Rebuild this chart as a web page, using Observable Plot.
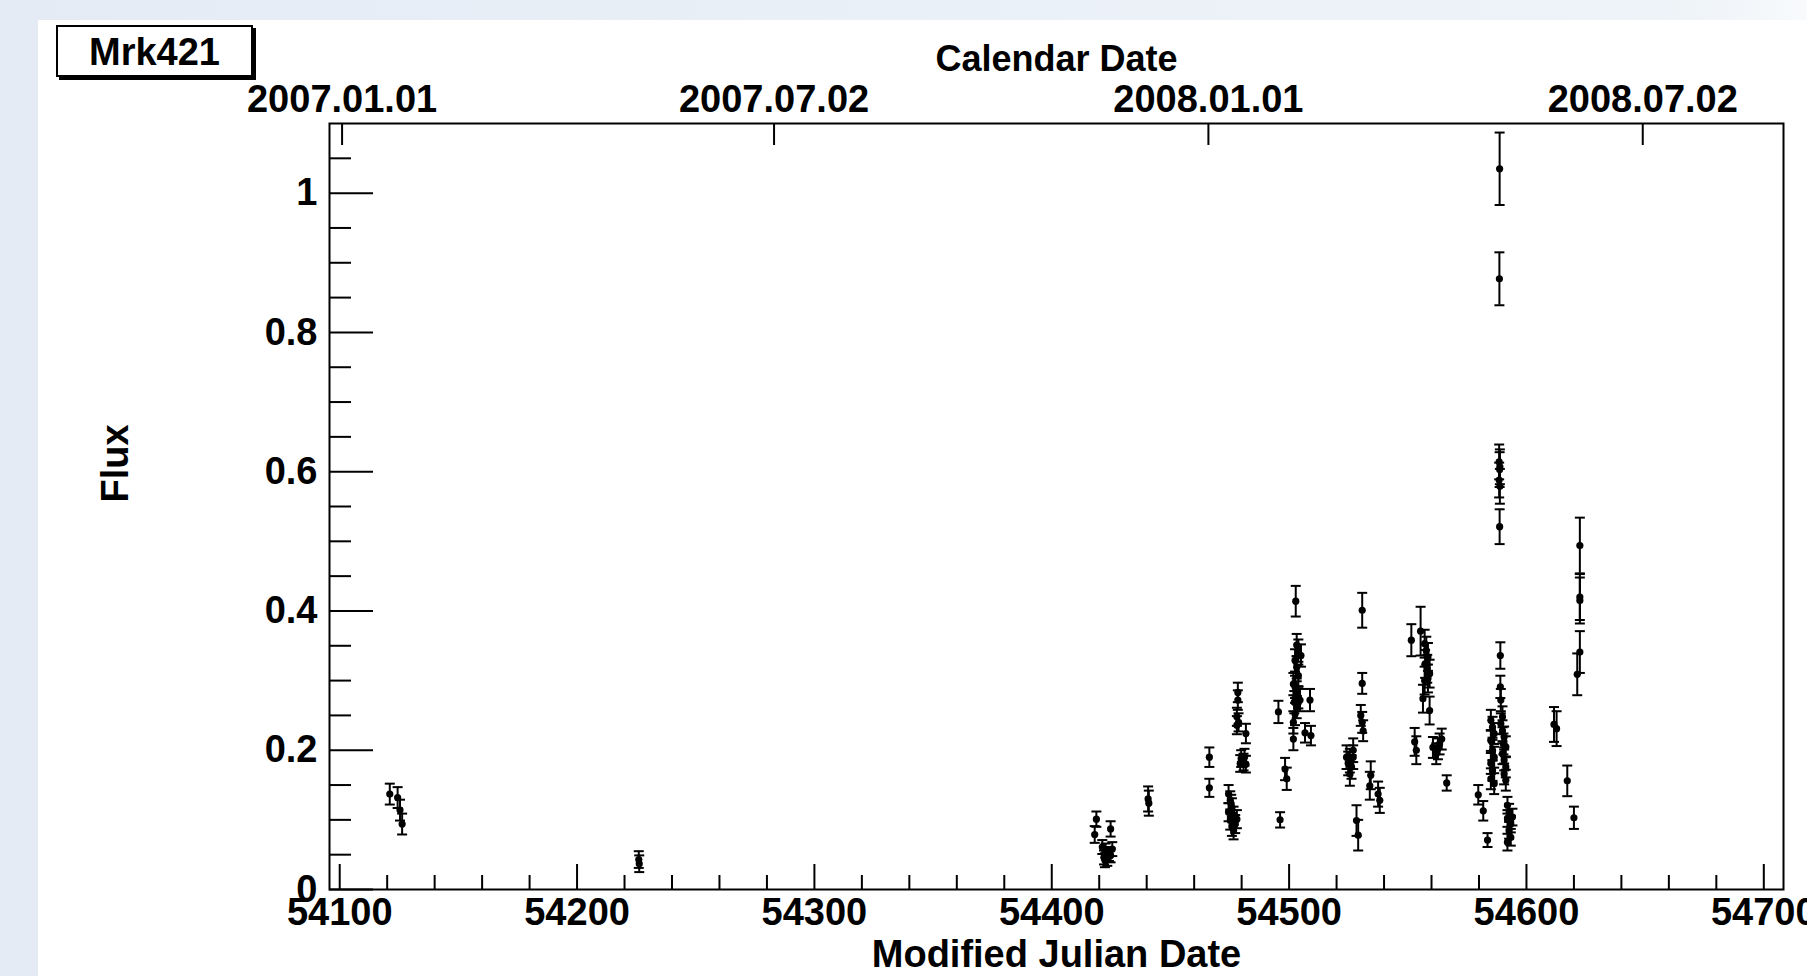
<!DOCTYPE html>
<html>
<head>
<meta charset="utf-8">
<script src="https://cdn.jsdelivr.net/npm/d3@7"></script>
<script src="https://cdn.jsdelivr.net/npm/@observablehq/plot@0.6"></script>
<style>
  html, body { margin: 0; padding: 0; overflow: hidden; }
  body {
    width: 1807px; height: 976px; position: relative;
    background: linear-gradient(90deg, #e4ebf5 0%, #ebf1f8 60%, #eef3f8 93%, #f8fafc 100%);
    font-family: "Liberation Sans", Arial, sans-serif;
  }
  #panel { position: absolute; left: 38px; top: 20px; width: 1769px; height: 956px; background: #fff; }
  #tag {
    position: absolute; left: 18px; top: 5px; width: 193px; height: 46px; z-index: 5;
    border: 2px solid #000; background: #fff; box-shadow: 3px 3px 0 #000;
    font: bold 38px "Liberation Sans", Arial, sans-serif; color: #000;
    display: flex; align-items: center; justify-content: center; line-height: 1; padding-top: 2px; box-sizing: content-box;
  }
</style>
</head>
<body>
<div id="panel"><div id="tag">Mrk421</div></div>
<script>
// ---- data ----
const mjd = [
  54121.1, 54124.4, 54125.4, 54126.3, 54226.0, 54226.2,
  54418.8, 54418.1, 54424.8, 54421.3, 54422.7, 54424.1, 54422.0, 54423.4, 54425.5, 54424.8, 54422.4,
  54440.6, 54440.9, 54466.4, 54466.4,
  54474.5, 54475.2, 54475.9, 54474.5, 54476.6, 54475.2, 54477.3, 54475.9, 54476.6, 54478.0, 54475.6,
  54478.4, 54478.4, 54478.0, 54478.7, 54478.0, 54481.8, 54479.8, 54480.8, 54481.8, 54479.4, 54481.2,
  54495.5, 54496.2, 54498.3, 54499.0, 54502.8,
  54503.2, 54503.9, 54505.0, 54502.5, 54503.2, 54503.9, 54501.8, 54502.5, 54503.2, 54503.9, 54502.2, 54503.2, 54501.8, 54501.8, 54504.6, 54502.5,
  54508.8, 54506.7, 54509.2,
  54530.8, 54530.8, 54530.2, 54530.8, 54531.2,
  54524.2, 54525.6, 54527.0, 54524.9, 54526.3, 54525.6, 54527.0,
  54528.4, 54529.1, 54534.4, 54534.0, 54537.5, 54538.2,
  54551.5, 54555.4, 54557.1, 54557.8, 54558.5, 54557.3, 54558.2, 54559.2, 54557.1, 54558.5,
  54556.4, 54559.2, 54552.9, 54553.6, 54560.6, 54562.0, 54563.4, 54564.3, 54562.7, 54566.4,
  54579.7, 54581.8, 54583.6,
  54585.0, 54585.7, 54586.4, 54585.0, 54585.7, 54586.4, 54585.0, 54585.7, 54585.0, 54586.4,
  54588.7, 54588.6, 54588.5, 54588.8, 54588.7, 54588.5, 54588.8, 54588.7,
  54589.0, 54589.0, 54589.2,
  54589.2, 54589.9, 54590.6, 54591.3, 54589.9, 54590.6, 54591.3, 54590.6, 54591.3, 54590.3, 54589.9,
  54592.0, 54592.7, 54592.0, 54593.4, 54592.7, 54593.4, 54592.0, 54594.1,
  54611.6, 54612.7, 54617.2, 54620.0,
  54622.5, 54622.5, 54622.5, 54622.5, 54621.4
];
const flux = [
  0.137, 0.132, 0.114, 0.094, 0.043, 0.037,
  0.101, 0.079, 0.087, 0.061, 0.056, 0.051, 0.046, 0.044, 0.058, 0.049, 0.042,
  0.130, 0.124, 0.190, 0.146,
  0.137, 0.128, 0.118, 0.111, 0.106, 0.099, 0.094, 0.090, 0.085, 0.101, 0.123,
  0.283, 0.272, 0.248, 0.240, 0.236, 0.224, 0.188, 0.183, 0.180, 0.181, 0.190,
  0.255, 0.100, 0.173, 0.159, 0.414,
  0.351, 0.343, 0.336, 0.329, 0.319, 0.307, 0.295, 0.291, 0.283, 0.276, 0.269, 0.262, 0.240, 0.216, 0.272, 0.252,
  0.272, 0.225, 0.221,
  0.401, 0.296, 0.250, 0.240, 0.228,
  0.190, 0.185, 0.190, 0.181, 0.176, 0.166, 0.200,
  0.099, 0.078, 0.164, 0.149, 0.137, 0.128,
  0.358, 0.371, 0.353, 0.343, 0.334, 0.324, 0.317, 0.310, 0.300, 0.303,
  0.274, 0.257, 0.212, 0.200, 0.204, 0.195, 0.209, 0.216, 0.202, 0.153,
  0.136, 0.113, 0.071,
  0.243, 0.233, 0.224, 0.214, 0.200, 0.190, 0.181, 0.171, 0.159, 0.152,
  1.035, 0.877, 0.614, 0.607, 0.603, 0.588, 0.579, 0.521,
  0.336, 0.291, 0.272,
  0.238, 0.228, 0.219, 0.205, 0.195, 0.186, 0.176, 0.166, 0.157, 0.209, 0.248,
  0.121, 0.111, 0.102, 0.094, 0.085, 0.075, 0.068, 0.104,
  0.237, 0.231, 0.156, 0.103,
  0.494, 0.420, 0.415, 0.341, 0.309
];
const fluxErr = [
  0.015, 0.015, 0.015, 0.015, 0.012, 0.012,
  0.011, 0.012, 0.011, 0.010, 0.010, 0.010, 0.010, 0.010, 0.010, 0.010, 0.010,
  0.018, 0.018, 0.014, 0.013,
  0.013, 0.013, 0.013, 0.013, 0.013, 0.013, 0.013, 0.013, 0.013, 0.013, 0.013,
  0.014, 0.014, 0.013, 0.013, 0.013, 0.014, 0.012, 0.012, 0.012, 0.012, 0.012,
  0.016, 0.011, 0.016, 0.016, 0.022,
  0.016, 0.016, 0.016, 0.016, 0.016, 0.016, 0.016, 0.016, 0.016, 0.016, 0.016, 0.016, 0.016, 0.016, 0.016, 0.016,
  0.016, 0.014, 0.014,
  0.025, 0.015, 0.015, 0.015, 0.015,
  0.017, 0.017, 0.017, 0.017, 0.017, 0.017, 0.017,
  0.022, 0.022, 0.020, 0.020, 0.018, 0.018,
  0.023, 0.035, 0.020, 0.020, 0.020, 0.020, 0.020, 0.020, 0.020, 0.020,
  0.020, 0.020, 0.020, 0.020, 0.015, 0.015, 0.015, 0.015, 0.015, 0.011,
  0.014, 0.014, 0.010,
  0.015, 0.015, 0.015, 0.015, 0.015, 0.015, 0.015, 0.015, 0.015, 0.015,
  0.052, 0.038, 0.025, 0.025, 0.025, 0.025, 0.025, 0.025,
  0.019, 0.016, 0.016,
  0.015, 0.015, 0.015, 0.015, 0.015, 0.015, 0.015, 0.015, 0.015, 0.015, 0.015,
  0.012, 0.012, 0.012, 0.012, 0.012, 0.012, 0.012, 0.012,
  0.025, 0.025, 0.022, 0.016,
  0.040, 0.033, 0.033, 0.030, 0.030
];
const xMajorTicks = [54100, 54200, 54300, 54400, 54500, 54600, 54700];
const xMinorTicks = d3.range(54100, 54701, 20).filter(v => v % 100 !== 0);
const yMajorTicks = [0, 0.2, 0.4, 0.6, 0.8, 1];
const yMinorTicks = [0.05, 0.1, 0.15, 0.25, 0.3, 0.35, 0.45, 0.5, 0.55, 0.65, 0.7, 0.75, 0.85, 0.9, 0.95, 1.05];
const calendarTicks = [54101, 54283, 54466, 54649];
const calendarLabels = ["2007.01.01", "2007.07.02", "2008.01.01", "2008.07.02"];

const points = mjd.map((m, i) => ({mjd: m, flux: flux[i], err: fluxErr[i]}));

// ---- layout ----
const W = 1769, H = 956;
const mL = 291, mR = 24, mT = 103, mB = 87;
const xDom = [54095.7, 54708.3], yDom = [0, 1.1];
const pxX = (xDom[1] - xDom[0]) / (W - mL - mR);  // data units per pixel
const pxY = (yDom[1] - yDom[0]) / (H - mT - mB);
const capHalf = 5 * pxX;

const chart = Plot.plot({
  width: W, height: H,
  marginLeft: mL, marginRight: mR, marginTop: mT, marginBottom: mB,
  x: {domain: xDom},
  y: {domain: yDom},
  style: {background: "white", color: "black", fontFamily: "'Liberation Sans', Arial, sans-serif", fontSize: "38px", fontWeight: "bold", maxWidth: "none", overflow: "visible"},
  marks: [
    // ticks on the frame
    Plot.ruleX(xMajorTicks, {x: d => d, y1: 0, y2: 25 * pxY, stroke: "black", strokeWidth: 2}),
    Plot.ruleX(xMinorTicks, {x: d => d, y1: 0, y2: 14 * pxY, stroke: "black", strokeWidth: 2}),
    Plot.ruleX(calendarTicks, {x: d => d, y1: yDom[1], y2: yDom[1] - 22 * pxY, stroke: "black", strokeWidth: 2}),
    Plot.ruleY(yMajorTicks, {y: d => d, x1: xDom[0], x2: xDom[0] + 44 * pxX, stroke: "black", strokeWidth: 2}),
    Plot.ruleY(yMinorTicks, {y: d => d, x1: xDom[0], x2: xDom[0] + 22 * pxX, stroke: "black", strokeWidth: 2}),
    // axis labels
    Plot.axisX(xMajorTicks, {anchor: "bottom", tickSize: 0, tickPadding: 9, tickFormat: d => String(d), label: null, fontSize: 38, fontWeight: "bold"}),
    Plot.axisX(calendarTicks, {anchor: "top", tickSize: 0, tickPadding: 12, tickFormat: d => calendarLabels[calendarTicks.indexOf(d)], label: null, fontSize: 38, fontWeight: "bold"}),
    Plot.axisY(yMajorTicks, {anchor: "left", tickSize: 0, tickPadding: 12, tickFormat: d => String(d), label: null, fontSize: 38, fontWeight: "bold"}),
    Plot.text(["Modified Julian Date"], {frameAnchor: "bottom", dy: 77, lineAnchor: "bottom", fontSize: 38, fontWeight: "bold", fill: "black"}),
    Plot.text(["Calendar Date"], {frameAnchor: "top", dy: -53, lineAnchor: "bottom", fontSize: 36, fontWeight: "bold", fill: "black"}),
    Plot.text(["Flux"], {frameAnchor: "left", dx: -214, dy: -4, rotate: -90, lineAnchor: "middle", fontSize: 38, fontWeight: "bold", fill: "black"}),
    // error bars
    Plot.ruleX(points, {x: "mjd", y1: d => d.flux - d.err, y2: d => d.flux + d.err, stroke: "black", strokeWidth: 2}),
    Plot.link(points, {x1: d => d.mjd - capHalf, x2: d => d.mjd + capHalf, y1: d => d.flux + d.err, y2: d => d.flux + d.err, stroke: "black", strokeWidth: 2}),
    Plot.link(points, {x1: d => d.mjd - capHalf, x2: d => d.mjd + capHalf, y1: d => d.flux - d.err, y2: d => d.flux - d.err, stroke: "black", strokeWidth: 2}),
    Plot.dot(points, {x: "mjd", y: "flux", r: 3.6, fill: "black", stroke: null}),
    Plot.frame({stroke: "black", strokeWidth: 2})
  ]
});
chart.style.position = "absolute";
chart.style.left = "0px";
chart.style.top = "0px";
chart.style.zIndex = "1";
document.getElementById("panel").appendChild(chart);
</script>
</body>
</html>
